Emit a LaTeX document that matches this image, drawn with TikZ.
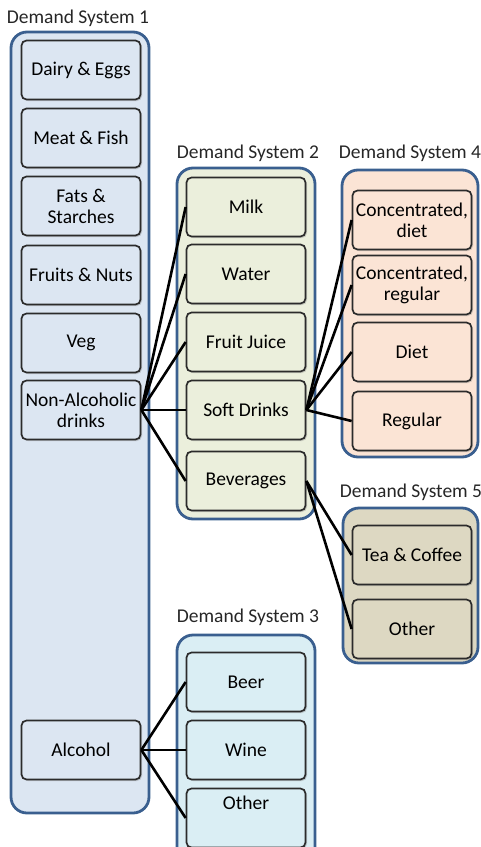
\documentclass[tikz,border=0pt]{standalone}
\usepackage{fontspec}
\setmainfont{Carlito}
\usetikzlibrary{shadows}
\definecolor{frameBlue}{HTML}{3A5F8F}
\definecolor{boxLine}{HTML}{2B2B2B}
\definecolor{fillOne}{HTML}{DCE6F2}
\definecolor{fillTwo}{HTML}{EBEFDC}
\definecolor{fillThree}{HTML}{DAEEF4}
\definecolor{fillFour}{HTML}{FBE4D5}
\definecolor{fillFive}{HTML}{DDD8C2}

\tikzset{
    system/.style={draw=frameBlue, line width=2.8pt, rounded corners=16pt},
    item/.style={draw=boxLine, line width=1.7pt, rounded corners=5pt,
        minimum width=119pt, minimum height=59pt, align=center,
        inner sep=1pt, font=\fontsize{19.5}{21}\selectfont,
        drop shadow={shadow xshift=1.5pt, shadow yshift=-1.5pt, opacity=0.35}},
    title/.style={font=\fontsize{19.5}{21}\selectfont, text=black!85, inner sep=0pt},
    link/.style={line width=2.6pt, black}
}

\begin{document}
\begin{tikzpicture}[x=1pt, y=-1pt]

    \useasboundingbox (0,0) rectangle (481,847);
    \clip (0,0) rectangle (481,847);

    % system frames
    \draw[system, fill=fillOne] (11,32) rectangle (149,813);
    \draw[system, fill=fillTwo] (177,168) rectangle (315,519);
    \draw[system, fill=fillFour] (342,170) rectangle (478,457);
    \draw[system, fill=fillFive] (343,508) rectangle (478,663);
    \draw[system, fill=fillThree] (177,635) rectangle (315,880);

    % titles
    \node[title] (tOne) at (78,18) {Demand System 1};
    \node[title] (tTwo) at (248,153) {Demand System 2};
    \node[title] (tFour) at (410,153) {Demand System 4};
    \node[title] (tFive) at (411,492) {Demand System 5};
    \node[title] (tThree) at (248,617) {Demand System 3};

    % demand system 1
    \node[item, fill=fillOne] (dairy) at (81,70) {Dairy \& Eggs};
    \node[item, fill=fillOne] (meat) at (81,138) {Meat \& Fish};
    \node[item, fill=fillOne] (fats) at (81,206) {Fats \&\\Starches};
    \node[item, fill=fillOne] (fruits) at (81,275) {Fruits \& Nuts};
    \node[item, fill=fillOne] (veg) at (81,343) {Veg};
    \node[item, fill=fillOne] (nonalc) at (81,410) {Non-Alcoholic\\drinks};
    \node[item, fill=fillOne] (alcohol) at (81,750) {Alcohol};

    % demand system 2
    \node[item, fill=fillTwo] (milk) at (246,207) {Milk};
    \node[item, fill=fillTwo] (water) at (246,274) {Water};
    \node[item, fill=fillTwo] (juice) at (246,342) {Fruit Juice};
    \node[item, fill=fillTwo] (soft) at (246,410) {Soft Drinks};
    \node[item, fill=fillTwo] (bev) at (246,481) {Beverages};

    % demand system 4
    \node[item, fill=fillFour] (concdiet) at (412,220) {Concentrated,\\diet};
    \node[item, fill=fillFour] (concreg) at (412,285) {Concentrated,\\regular};
    \node[item, fill=fillFour] (diet) at (412,352) {Diet};
    \node[item, fill=fillFour] (regular) at (412,421) {Regular};

    % demand system 5
    \node[item, fill=fillFive] (tea) at (412,555) {Tea \& Coffee};
    \node[item, fill=fillFive] (otherfive) at (412,629) {Other};

    % demand system 3
    \node[item, fill=fillThree] (beer) at (246,682) {Beer};
    \node[item, fill=fillThree] (wine) at (246,750) {Wine};
    \node[item, fill=fillThree, text depth=31pt] (otherthree) at (246,818) {Other};

    % links
    \foreach \t in {milk,water,juice,soft,bev}
        \draw[link] (nonalc.east) -- (\t.west);
    \foreach \t in {concdiet,concreg,diet,regular}
        \draw[link] (soft.east) -- (\t.west);
    \foreach \t in {tea,otherfive}
        \draw[link] (bev.east) -- (\t.west);
    \foreach \t in {beer,wine,otherthree}
        \draw[link] (alcohol.east) -- (\t.west);

\end{tikzpicture}
\end{document}
